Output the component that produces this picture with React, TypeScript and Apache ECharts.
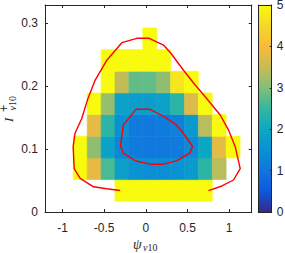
import React, { useEffect, useRef } from 'react';
import * as echarts from 'echarts';

// bin centres of the 2-D histogram
const xCenters = [-0.787, -0.62, -0.453, -0.287, -0.12, 0.047, 0.213, 0.38, 0.547, 0.713, 0.88, 1.047];
const yCenters = [0.0342, 0.0686, 0.103, 0.1374, 0.1718, 0.2062, 0.2406, 0.275];
// cell values, rows from bottom (yCenters[0]) to top
const density: (number | null)[][] = [
  [null, null, null, 5, 5, 5, 5, 5, 5, 5, null, null],
  [5, 3.8, 2.65, 1.8, 1.55, 1.45, 1.45, 1.55, 1.7, 2.4, 3.4, null],
  [5, 3.1, 1.85, 1.3, 1.1, 1.05, 1.05, 1.1, 1.35, 1.95, 3.8, 5],
  [null, 3.8, 2.4, 1.5, 1.1, 1.05, 1.1, 1.2, 1.65, 3.4, 5, null],
  [null, 5, 3.15, 1.85, 1.75, 1.75, 1.85, 2.4, 3.7, 5, null, null],
  [null, null, 5, 3.45, 2.8, 2.8, 3.1, 4.7, 5, null, null, null],
  [null, null, 5, 5, 5, 5, 5, null, null, null, null, null],
  [null, null, null, null, null, 5, null, null, null, null, null, null],
];
// red contour lines
const outerX = [-0.308, -0.47, -0.628, -0.788, -0.86, -0.872, -0.85, -0.77, -0.7, -0.608, -0.468, -0.288, -0.108, 0.04, 0.212, 0.3, 0.452, 0.592, 0.712, 0.892, 0.992, 1.072, 1.132, 1.052, 0.912, 0.752];
const outerY = [0.0342, 0.037, 0.04, 0.0535, 0.069, 0.1037, 0.125, 0.148, 0.178, 0.2095, 0.241, 0.2688, 0.2757, 0.2757, 0.265, 0.252, 0.225, 0.2016, 0.183, 0.154, 0.13, 0.1037, 0.069, 0.0508, 0.0413, 0.0338];
const innerX = [-0.12, 0.05, 0.212, 0.35, 0.44, 0.56, 0.53, 0.372, 0.2, 0.072, -0.12, -0.268, -0.305, -0.27, -0.12];
const innerY = [0.163, 0.163, 0.152, 0.14, 0.127, 0.104, 0.094, 0.0815, 0.0757, 0.0757, 0.081, 0.093, 0.105, 0.138, 0.163];
const xTicks = [-1, -0.5, 0, 0.5, 1];
const yTicks = [0, 0.1, 0.2, 0.3];
const cbTicks = [0, 1, 2, 3, 4, 5];

const parula = ['#352a87', '#0e58dc', '#1076de', '#0a91d4', '#0ca8c3', '#32b8a0', '#82bf78', '#c8bc55', '#faba3a', '#f5d728', '#f9fb0e'];

const AX = '#262626';
const LABEL_FONT = { fontFamily: 'Liberation Sans', fontSize: 12, color: AX };

export default function App() {
  const ref = useRef<HTMLDivElement>(null);
  useEffect(() => {
    const chart = echarts.init(ref.current!, null, { renderer: 'svg' });
    const cells: number[][] = [];
    density.forEach((row, r) => row.forEach((v, c) => { if (v !== null) cells.push([xCenters[c], yCenters[r], v]); }));
    const dx = xCenters[1] - xCenters[0];
    const dy = yCenters[1] - yCenters[0];
    const axisLine = { show: true, onZero: false, lineStyle: { color: AX, width: 1 } };
    const mainX = { type: 'value', gridIndex: 0, min: -1.21, max: 1.27, splitLine: { show: false } };
    const mainY = { type: 'value', gridIndex: 0, min: 0, max: 0.3286, interval: 0.1, splitLine: { show: false } };
    chart.setOption({
      animation: false,
      grid: [
        { left: 45, top: 5, width: 206.7, height: 207, outerBoundsMode: 'none' },
        { left: 258.3, top: 5, width: 13.4, height: 207, outerBoundsMode: 'none' },
      ],
      xAxis: [
        { ...mainX, position: 'bottom', axisLine, axisTick: { show: true, inside: true, length: 3, customValues: xTicks, lineStyle: { color: AX } },
          axisLabel: { ...LABEL_FONT, margin: 10, customValues: xTicks, formatter: (v: number) => String(v) } },
        { ...mainX, position: 'top', axisLine, axisTick: { show: true, inside: true, length: 3, customValues: xTicks, lineStyle: { color: AX } }, axisLabel: { show: false } },
        { type: 'value', gridIndex: 1, min: 0, max: 1, position: 'bottom', axisLine, axisTick: { show: false }, axisLabel: { show: false }, splitLine: { show: false }, z: 5 },
        { type: 'value', gridIndex: 1, min: 0, max: 1, position: 'top', axisLine, axisTick: { show: false }, axisLabel: { show: false }, splitLine: { show: false }, z: 5 },
      ],
      yAxis: [
        { ...mainY, position: 'left', axisLine, axisTick: { show: true, inside: true, length: 3, customValues: yTicks, lineStyle: { color: AX } },
          axisLabel: { ...LABEL_FONT, margin: 7, customValues: yTicks, formatter: (v: number) => String(v) } },
        { ...mainY, position: 'right', axisLine, axisTick: { show: true, inside: true, length: 3, customValues: yTicks, lineStyle: { color: AX } }, axisLabel: { show: false } },
        { type: 'value', gridIndex: 1, min: 0, max: 5, interval: 1, position: 'right', axisLine,
          axisTick: { show: true, inside: true, length: 2, lineStyle: { color: AX } },
          axisLabel: { ...LABEL_FONT, lineHeight: 8, margin: 5, customValues: cbTicks }, splitLine: { show: false }, z: 5 },
        { type: 'value', gridIndex: 1, min: 0, max: 5, position: 'left', axisLine, axisTick: { show: false }, axisLabel: { show: false }, splitLine: { show: false }, z: 5 },
      ],
      visualMap: {
        type: 'continuous', show: false, min: 0, max: 5, dimension: 2, seriesIndex: 0,
        inRange: { color: parula },
      },
      series: [
        {
          type: 'custom', xAxisIndex: 0, yAxisIndex: 0, data: cells, encode: { x: 0, y: 1 },
          renderItem: (params: any, api: any) => {
            const x = api.value(0), y = api.value(1);
            const p0 = api.coord([x - dx / 2, y + dy / 2]);
            const p1 = api.coord([x + dx / 2, y - dy / 2]);
            const col = api.visual('color');
            return { type: 'rect', shape: { x: p0[0], y: p0[1], width: p1[0] - p0[0], height: p1[1] - p0[1] },
              style: { fill: col, stroke: col, lineWidth: 0.6 } };
          },
        },
        { type: 'line', xAxisIndex: 0, yAxisIndex: 0, data: outerX.map((x, i) => [x, outerY[i]]), symbol: 'none',
          lineStyle: { color: '#ff0000', width: 1.4 }, z: 4 },
        { type: 'line', xAxisIndex: 0, yAxisIndex: 0, data: innerX.map((x, i) => [x, innerY[i]]), symbol: 'none',
          lineStyle: { color: '#ff0000', width: 1.4 }, z: 4 },
        {
          type: 'custom', xAxisIndex: 2, yAxisIndex: 2, data: [[0, 0]], z: 1,
          renderItem: (params: any, api: any) => {
            const p0 = api.coord([0, 5]);
            const p1 = api.coord([1, 0]);
            return { type: 'rect', shape: { x: p0[0], y: p0[1], width: p1[0] - p0[0], height: p1[1] - p0[1] },
              style: { fill: new echarts.graphic.LinearGradient(0, 1, 0, 0, parula.map((c, i) => ({ offset: i / (parula.length - 1), color: c }))) } };
          },
        },
      ],
      graphic: [
        { type: 'text', x: 133, y: 244, style: { text: 'ψ', font: 'italic 14px "Liberation Serif"', fill: AX, align: 'left', verticalAlign: 'middle' } },
        { type: 'text', x: 143, y: 247.5, style: { text: '{a|v}{b|10}', fill: AX, align: 'left', verticalAlign: 'middle',
          rich: { a: { fontFamily: 'Liberation Serif', fontStyle: 'italic', fontSize: 10, fill: AX }, b: { fontFamily: 'Liberation Serif', fontSize: 10, fill: AX } } } },
        {
          type: 'group', x: 12, y: 122, rotation: Math.PI / 2,
          children: [
            { type: 'text', x: 0, y: -4, style: { text: 'I', font: 'italic 13px "Liberation Serif"', fill: AX, align: 'left', verticalAlign: 'middle' } },
            { type: 'text', x: 9.5, y: -8.5, style: { text: '+', font: '10px "DejaVu Sans"', lineHeight: 6, fill: AX, align: 'left', verticalAlign: 'middle' } },
            { type: 'text', x: 11.5, y: 0.5, style: { text: '{a|v}{b|10}', fill: AX, align: 'left', verticalAlign: 'middle',
              rich: { a: { fontFamily: 'Liberation Serif', fontStyle: 'italic', fontSize: 10, fill: AX }, b: { fontFamily: 'Liberation Serif', fontSize: 10, fill: AX } } } },
          ],
        },
      ],
    });
    return () => chart.dispose();
  }, []);
  return <div ref={ref} style={{ position: 'absolute', left: 0, top: 0, width: 285, height: 253, background: '#fff' }} />;
}
